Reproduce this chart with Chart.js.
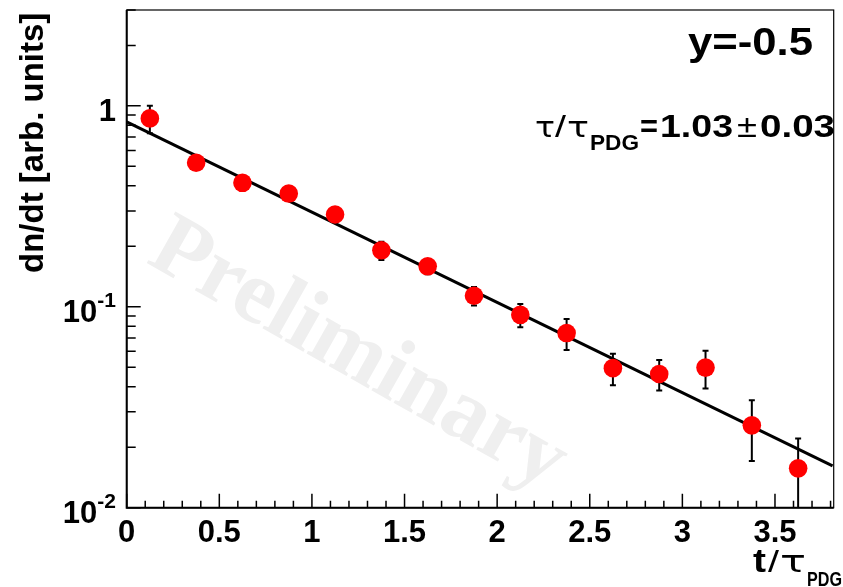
<!DOCTYPE html>
<html>
<head>
<meta charset="utf-8">
<script src="https://cdn.jsdelivr.net/npm/chart.js@4/dist/chart.umd.min.js"></script>
<style>
  html, body { margin: 0; padding: 0; background: #ffffff; }
  #wrap { width: 843px; height: 587px; }
</style>
</head>
<body>
<div id="wrap"><canvas id="c" width="843" height="587"></canvas></div>
<script>
// Decay-time distribution, bin centres in units of the PDG lifetime
const binCenters = [0.125, 0.375, 0.625, 0.875, 1.125, 1.375, 1.625, 1.875, 2.125, 2.375, 2.625, 2.875, 3.125, 3.375, 3.625];
const dndt      = [0.866, 0.521, 0.414, 0.366, 0.288, 0.191, 0.159, 0.1135, 0.0912, 0.074, 0.0495, 0.0463, 0.0498, 0.0257, 0.0157];
const dndtErr   = [0.135, 0.025, 0.020, 0.018, 0.015, 0.020, 0.014, 0.012, 0.012, 0.013, 0.0088, 0.0080, 0.0106, 0.0086, 0.0064];

// Exponential fit, given by its end points (straight on the log axis)
const fitT   = [0, 3.811];
const fitVal = [0.833, 0.01616];

// Axis ranges and labelled ticks
const xRange = [0, 3.817];
const yRange = [0.01, 3];
const xTickValues = [0, 0.5, 1, 1.5, 2, 2.5, 3, 3.5];
const xTickLabels = ['0', '0.5', '1', '1.5', '2', '2.5', '3', '3.5'];
const yTickValues = [0.01, 0.1, 1];
const yTickBase   = ['10', '10', '1'];
const yTickExp    = ['-2', '-1', ''];

const rapidityLabel = 'y=-0.5';
const lifetimeValue = '1.03';
const lifetimeError = '0.03';

const SANS = '"Liberation Sans", Arial, Helvetica, sans-serif';
const GREEK = '"DejaVu Sans", "Liberation Serif", serif';

// draws a run of [text, font, dy] pieces, right-aligned at x
function drawRun(ctx, pieces, xRight, yBase) {
  let total = 0;
  const widths = pieces.map(p => { ctx.font = p[1]; const w = ctx.measureText(p[0]).width; total += w; return w; });
  let x = xRight - total;
  ctx.textAlign = 'left';
  ctx.textBaseline = 'alphabetic';
  pieces.forEach((p, i) => {
    ctx.font = p[1];
    ctx.fillText(p[0], x, yBase + (p[2] || 0));
    x += widths[i];
  });
}

// draws one text piece from its left edge, squeezed or widened to a set width
function drawFitted(ctx, text, font, x, yBase, width) {
  ctx.save();
  ctx.font = font;
  ctx.textAlign = 'left';
  ctx.textBaseline = 'alphabetic';
  const w = ctx.measureText(text).width;
  ctx.translate(x, yBase);
  ctx.scale(width / w, 1);
  ctx.fillText(text, 0, 0);
  ctx.restore();
}

const watermark = {
  id: 'watermark',
  beforeDatasetsDraw(chart) {
    const ctx = chart.ctx;
    const a = chart.chartArea;
    ctx.save();
    ctx.beginPath();
    ctx.rect(a.left, a.top, a.right - a.left, a.bottom - a.top);
    ctx.clip();
    ctx.translate(145, 262);
    ctx.rotate(29.5 * Math.PI / 180);
    ctx.fillStyle = '#efefef';
    ctx.font = 'bold 90px "Liberation Serif", "Times New Roman", serif';
    ctx.textAlign = 'left';
    ctx.textBaseline = 'alphabetic';
    ctx.fillText('Preliminary', 0, 0);
    ctx.restore();
  }
};

const errorBars = {
  id: 'errorBars',
  beforeDatasetsDraw(chart) {
    const ctx = chart.ctx;
    const xs = chart.scales.x, ys = chart.scales.y;
    const a = chart.chartArea;
    ctx.save();
    ctx.beginPath();
    ctx.rect(a.left, a.top, a.right - a.left, a.bottom - a.top);
    ctx.clip();
    ctx.strokeStyle = '#000000';
    ctx.lineWidth = 2;
    binCenters.forEach((t, i) => {
      const px = xs.getPixelForValue(t);
      const hi = dndt[i] + dndtErr[i];
      const lo = dndt[i] - dndtErr[i];
      const pyHi = ys.getPixelForValue(hi);
      const pyLo = lo > 0 ? ys.getPixelForValue(lo) : a.bottom + 5;
      ctx.beginPath();
      ctx.moveTo(px, pyHi); ctx.lineTo(px, pyLo);
      ctx.moveTo(px - 3, pyHi); ctx.lineTo(px + 3, pyHi);
      if (lo > yRange[0]) { ctx.moveTo(px - 3, pyLo); ctx.lineTo(px + 3, pyLo); }
      ctx.stroke();
    });
    ctx.restore();
  }
};

const frameAndAxes = {
  id: 'frameAndAxes',
  afterDraw(chart) {
    const ctx = chart.ctx;
    const xs = chart.scales.x, ys = chart.scales.y;
    const a = chart.chartArea;
    ctx.save();
    ctx.strokeStyle = '#000000';

    // frame
    ctx.lineWidth = 1.2;
    ctx.strokeRect(a.left, a.top, a.right - a.left, a.bottom - a.top);
    ctx.lineWidth = 2;
    ctx.beginPath();
    ctx.moveTo(a.left, a.top); ctx.lineTo(a.left, a.bottom); ctx.lineTo(a.right, a.bottom);
    ctx.stroke();

    // x ticks: minor every 0.1, major every 0.5
    ctx.lineWidth = 1.5;
    ctx.beginPath();
    for (let k = 0; k <= 38; k++) {
      const v = k / 10;
      if (v > xRange[1]) break;
      const px = xs.getPixelForValue(v);
      const len = (k % 5 === 0) ? 14 : 7;
      ctx.moveTo(px, a.bottom); ctx.lineTo(px, a.bottom - len);
    }
    // y ticks: decades and 2..9 in between
    for (let d = -2; d <= 0; d++) {
      for (let m = 1; m <= 9; m++) {
        const v = m * Math.pow(10, d);
        if (v < yRange[0] || v > yRange[1]) continue;
        const py = ys.getPixelForValue(v);
        const len = (m === 1) ? 14 : 9;
        ctx.moveTo(a.left, py); ctx.lineTo(a.left + len, py);
      }
    }
    ctx.stroke();

    ctx.fillStyle = '#000000';
    // x tick labels
    ctx.font = 'bold 31px ' + SANS;
    ctx.textAlign = 'center';
    ctx.textBaseline = 'alphabetic';
    xTickValues.forEach((v, i) => {
      ctx.fillText(xTickLabels[i], xs.getPixelForValue(v), 542);
    });

    // y tick labels with exponents
    yTickValues.forEach((v, i) => {
      const py = ys.getPixelForValue(v);
      const pieces = [[yTickBase[i], 'bold 31px ' + SANS, 0]];
      if (yTickExp[i]) pieces.push([yTickExp[i], 'bold 21px ' + SANS, -15]);
      drawRun(ctx, pieces, 116, py + 15);
    });

    // y title
    ctx.save();
    ctx.translate(43, 273);
    ctx.rotate(-Math.PI / 2);
    ctx.font = 'bold 33px ' + SANS;
    ctx.textAlign = 'left';
    ctx.fillText('dn/dt [arb. units]', 0, 0);
    ctx.restore();

    // x title t/tau_PDG
    drawFitted(ctx, 't', 'bold 33px ' + SANS, 753, 572, 13);
    drawFitted(ctx, '/', '30px ' + SANS, 768, 572, 11);
    drawFitted(ctx, '\u03C4', '30px ' + GREEK, 780, 572, 26);
    drawFitted(ctx, 'PDG', 'bold 21px ' + SANS, 807, 586, 35);

    // annotations
    drawFitted(ctx, rapidityLabel, 'bold 38px ' + SANS, 688, 55, 125);

    drawFitted(ctx, '\u03C4', '29px ' + GREEK, 535, 137, 20);
    drawFitted(ctx, '/', '30px ' + SANS, 555, 137, 11);
    drawFitted(ctx, '\u03C4', '29px ' + GREEK, 567, 137, 22);
    drawFitted(ctx, 'PDG', 'bold 22px ' + SANS, 590, 150, 49);
    drawFitted(ctx, '=', 'bold 32px ' + SANS, 640, 137, 18);
    drawFitted(ctx, lifetimeValue, 'bold 32px ' + SANS, 660, 137, 73);
    drawFitted(ctx, '\u00B1', '31px ' + SANS, 737, 137, 20);
    drawFitted(ctx, lifetimeError, 'bold 32px ' + SANS, 760, 137, 75);

    ctx.restore();
  }
};

const pointsData = binCenters.map((t, i) => ({ x: t, y: dndt[i] }));
const fitData = fitT.map((t, i) => ({ x: t, y: fitVal[i] }));

new Chart(document.getElementById('c'), {
  type: 'scatter',
  data: {
    datasets: [
      {
        type: 'line',
        data: fitData,
        borderColor: '#000000',
        borderWidth: 3,
        pointRadius: 0,
        fill: false,
        order: 2
      },
      {
        data: pointsData,
        backgroundColor: '#ff0000',
        borderWidth: 0,
        pointRadius: 9.3,
        pointHoverRadius: 9.3,
        order: 1
      }
    ]
  },
  options: {
    responsive: false,
    devicePixelRatio: 1,
    animation: false,
    events: [],
    layout: { padding: { left: 126.7, top: 10, right: 3.7, bottom: 79.3 } },
    plugins: { legend: { display: false }, tooltip: { enabled: false } },
    scales: {
      x: { type: 'linear', display: false, min: xRange[0], max: xRange[1] },
      y: { type: 'logarithmic', display: false, min: yRange[0], max: yRange[1] }
    }
  },
  plugins: [watermark, errorBars, frameAndAxes]
});
</script>
</body>
</html>
